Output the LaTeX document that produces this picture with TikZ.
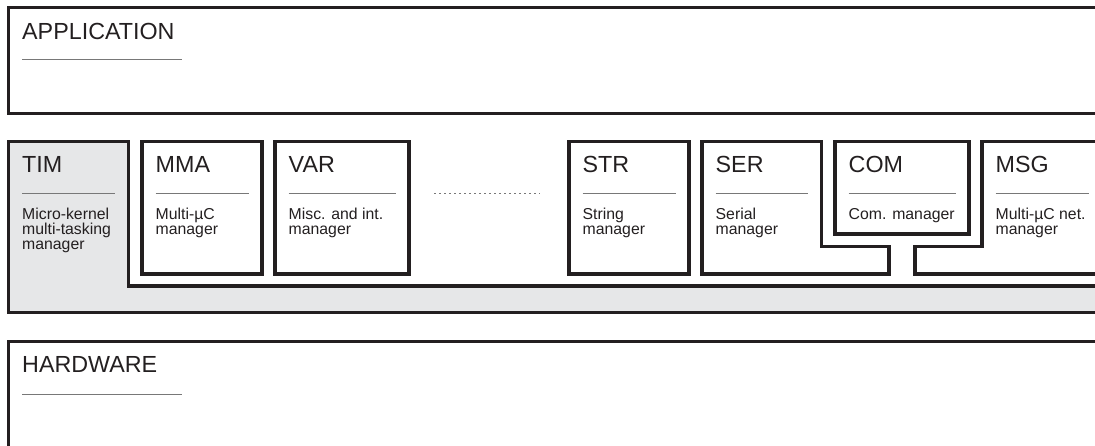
\documentclass[tikz,border=0pt]{standalone}
\usepackage{fontspec}
\setmainfont{Liberation Sans}
\usetikzlibrary{positioning}
\definecolor{traitNoir}{RGB}{35,31,32}
\definecolor{grisFond}{RGB}{230,231,232}
\definecolor{grisFilet}{RGB}{120,120,120}

\begin{document}
\begin{tikzpicture}[x=1pt,y=-1pt,
  bloc/.style={draw=traitNoir,line width=3.5pt,line join=miter},
  titre/.style={anchor=base west,inner sep=0pt,text=traitNoir,
                font=\fontsize{23.3}{26}\selectfont},
  desc/.style={anchor=base west,inner sep=0pt,text=traitNoir},
  filet/.style={draw=grisFilet,line width=1pt}]

  \useasboundingbox (0,0) rectangle (1095,446);
  \clip (0,0) rectangle (1095,446);

  % couches
  \draw[bloc] (1110,7.5) -- (8.5,7.5) -- (8.5,113.5) -- (1110,113.5);
  \node[titre] (app) at (22,40) {APPLICATION};
  \draw[filet] (22,60) -- (182,60);

  \draw[bloc] (1110,341.5) -- (8.5,341.5) -- (8.5,447.5) -- (1110,447.5);
  \node[titre] (hw) at (22,372.5) {HARDWARE};
  \draw[filet] (22,394) -- (182,394);

  % modules
  \draw[bloc,fill=grisFond] (8.5,141.5) -- (128.5,141.5) -- (128.5,286)
    -- (1110,286) -- (1110,312.5) -- (8.5,312.5) -- cycle;
  \draw[bloc] (142,141.5) rectangle (262,274);
  \draw[bloc] (275,141.5) rectangle (409,274);
  \draw[bloc] (569,141.5) rectangle (689,274);
  \draw[bloc] (702,141.5) -- (821.5,141.5) -- (821.5,246.5) -- (889,246.5)
    -- (889,274) -- (702,274) -- cycle;
  \draw[bloc] (835,141.5) rectangle (969,234);
  \draw[bloc] (1110,141.5) -- (982,141.5) -- (982,246.5) -- (915,246.5)
    -- (915,274) -- (1110,274);

  \foreach \nom/\xg/\xd/\titre/\desc in {
      tim/8.5/128.5/TIM/{Micro-kernel\\multi-tasking\\manager},
      mma/142/262/MMA/{Multi-µC\\manager},
      var/275/409/VAR/{Misc. and int.\\manager},
      str/569/689/STR/{String\\manager},
      ser/702/821.5/SER/{Serial\\manager},
      com/835/969/COM/{Com. manager},
      msg/982/1102/MSG/{Multi-µC net.\\manager}} {
    \node[titre] (\nom-t) at (\xg+13.5,172.5) {\titre};
    \draw[filet] (\xg+13.5,193.5) -- (\xd-13.5,193.5);
    \node[desc] (\nom-d) at (\xg+13.5,219.3)
      {\parbox[t]{200pt}{\fontsize{15.8}{15}\selectfont\desc}};
  }

  \draw[grisFilet,line width=1.4pt,dash pattern=on 1.6pt off 3.4pt]
    (434,193.5) -- (540,193.5);
\end{tikzpicture}
\end{document}
